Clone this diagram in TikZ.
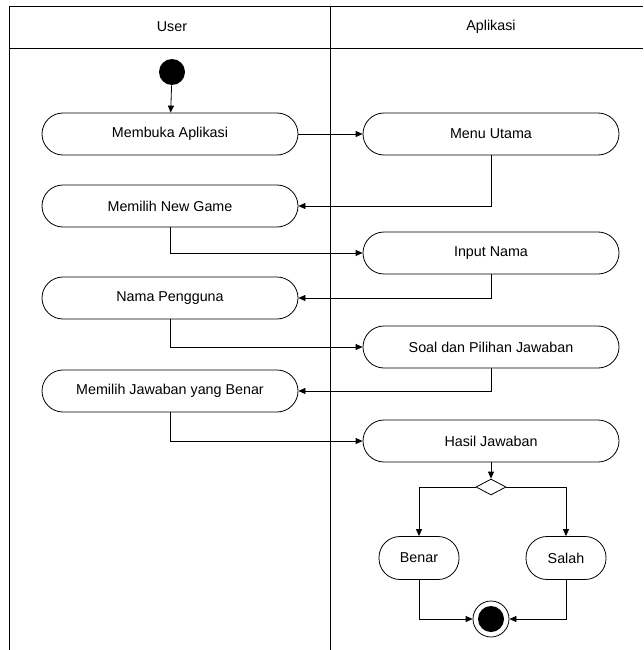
\documentclass[tikz,border=0pt]{standalone}
\usepackage{fontspec}
\setmainfont{Liberation Sans}
\usetikzlibrary{arrows.meta,shapes.geometric}

\tikzset{
  lbl/.style={font=\fontsize{14.3}{16}\selectfont},
  act/.style={draw, rectangle, rounded corners=21pt, minimum width=256pt,
    minimum height=42pt, lbl},
  smallact/.style={act, minimum width=80pt, minimum height=43pt},
  flow/.style={-{Triangle[length=7pt,width=6pt]}},
}

\begin{document}
\begin{tikzpicture}[x=1pt,y=-1pt,line width=0.8pt]
\useasboundingbox (0,0) rectangle (643,650);
% swimlanes
\draw (9,650) -- (9,6) -- (643,6);
\draw (9,48) -- (643,48);
\draw (330,6) -- (330,650);
\node[lbl] (user) at (172,27) {User};
\node[lbl] (apl) at (491,27) {Aplikasi};

% user lane
\node[circle, fill=black, minimum size=26pt, inner sep=0pt] (start) at (172,72) {};
\node[act] (buka) at (170,134) {Membuka Aplikasi};
\node[act] (newgame) at (170,206) {Memilih New Game};
\node[act] (pengguna) at (170,298) {Nama Pengguna};
\node[act] (jawab) at (170,391) {Memilih Jawaban yang Benar};

% aplikasi lane
\node[act] (menu) at (491,134) {Menu Utama};
\node[act] (input) at (491,253) {Input Nama};
\node[act] (soal) at (491,347) {Soal dan Pilihan Jawaban};
\node[act] (hasil) at (491,441) {Hasil Jawaban};
\node[diamond, draw, minimum width=30pt, minimum height=16pt, inner sep=0pt] (dec) at (491,487) {};
\node[smallact] (benar) at (419,558) {Benar};
\node[smallact] (salah) at (566,558) {Salah};
\node[circle, draw, fill=white, minimum size=36pt, inner sep=0pt] (end) at (491,619) {};
\node[circle, fill=black, minimum size=26pt, inner sep=0pt] (endin) at (end) {};

% flows
\draw[flow] (start) -- (buka);
\draw[flow] (buka) -- (menu);
\draw[flow] (menu.south) |- (newgame.east);
\draw[flow] (newgame.south) |- (input.west);
\draw[flow] (input.south) |- (pengguna.east);
\draw[flow] (pengguna.south) |- (soal.west);
\draw[flow] (soal.south) |- (jawab.east);
\draw[flow] (jawab.south) |- (hasil.west);
\draw[flow] (hasil) -- (dec);
\draw[flow] (dec.west) -| (benar.north);
\draw[flow] (dec.east) -| (salah.north);
\draw[flow] (benar.south) |- (end.west);
\draw[flow] (salah.south) |- (end.east);
\end{tikzpicture}
\end{document}
